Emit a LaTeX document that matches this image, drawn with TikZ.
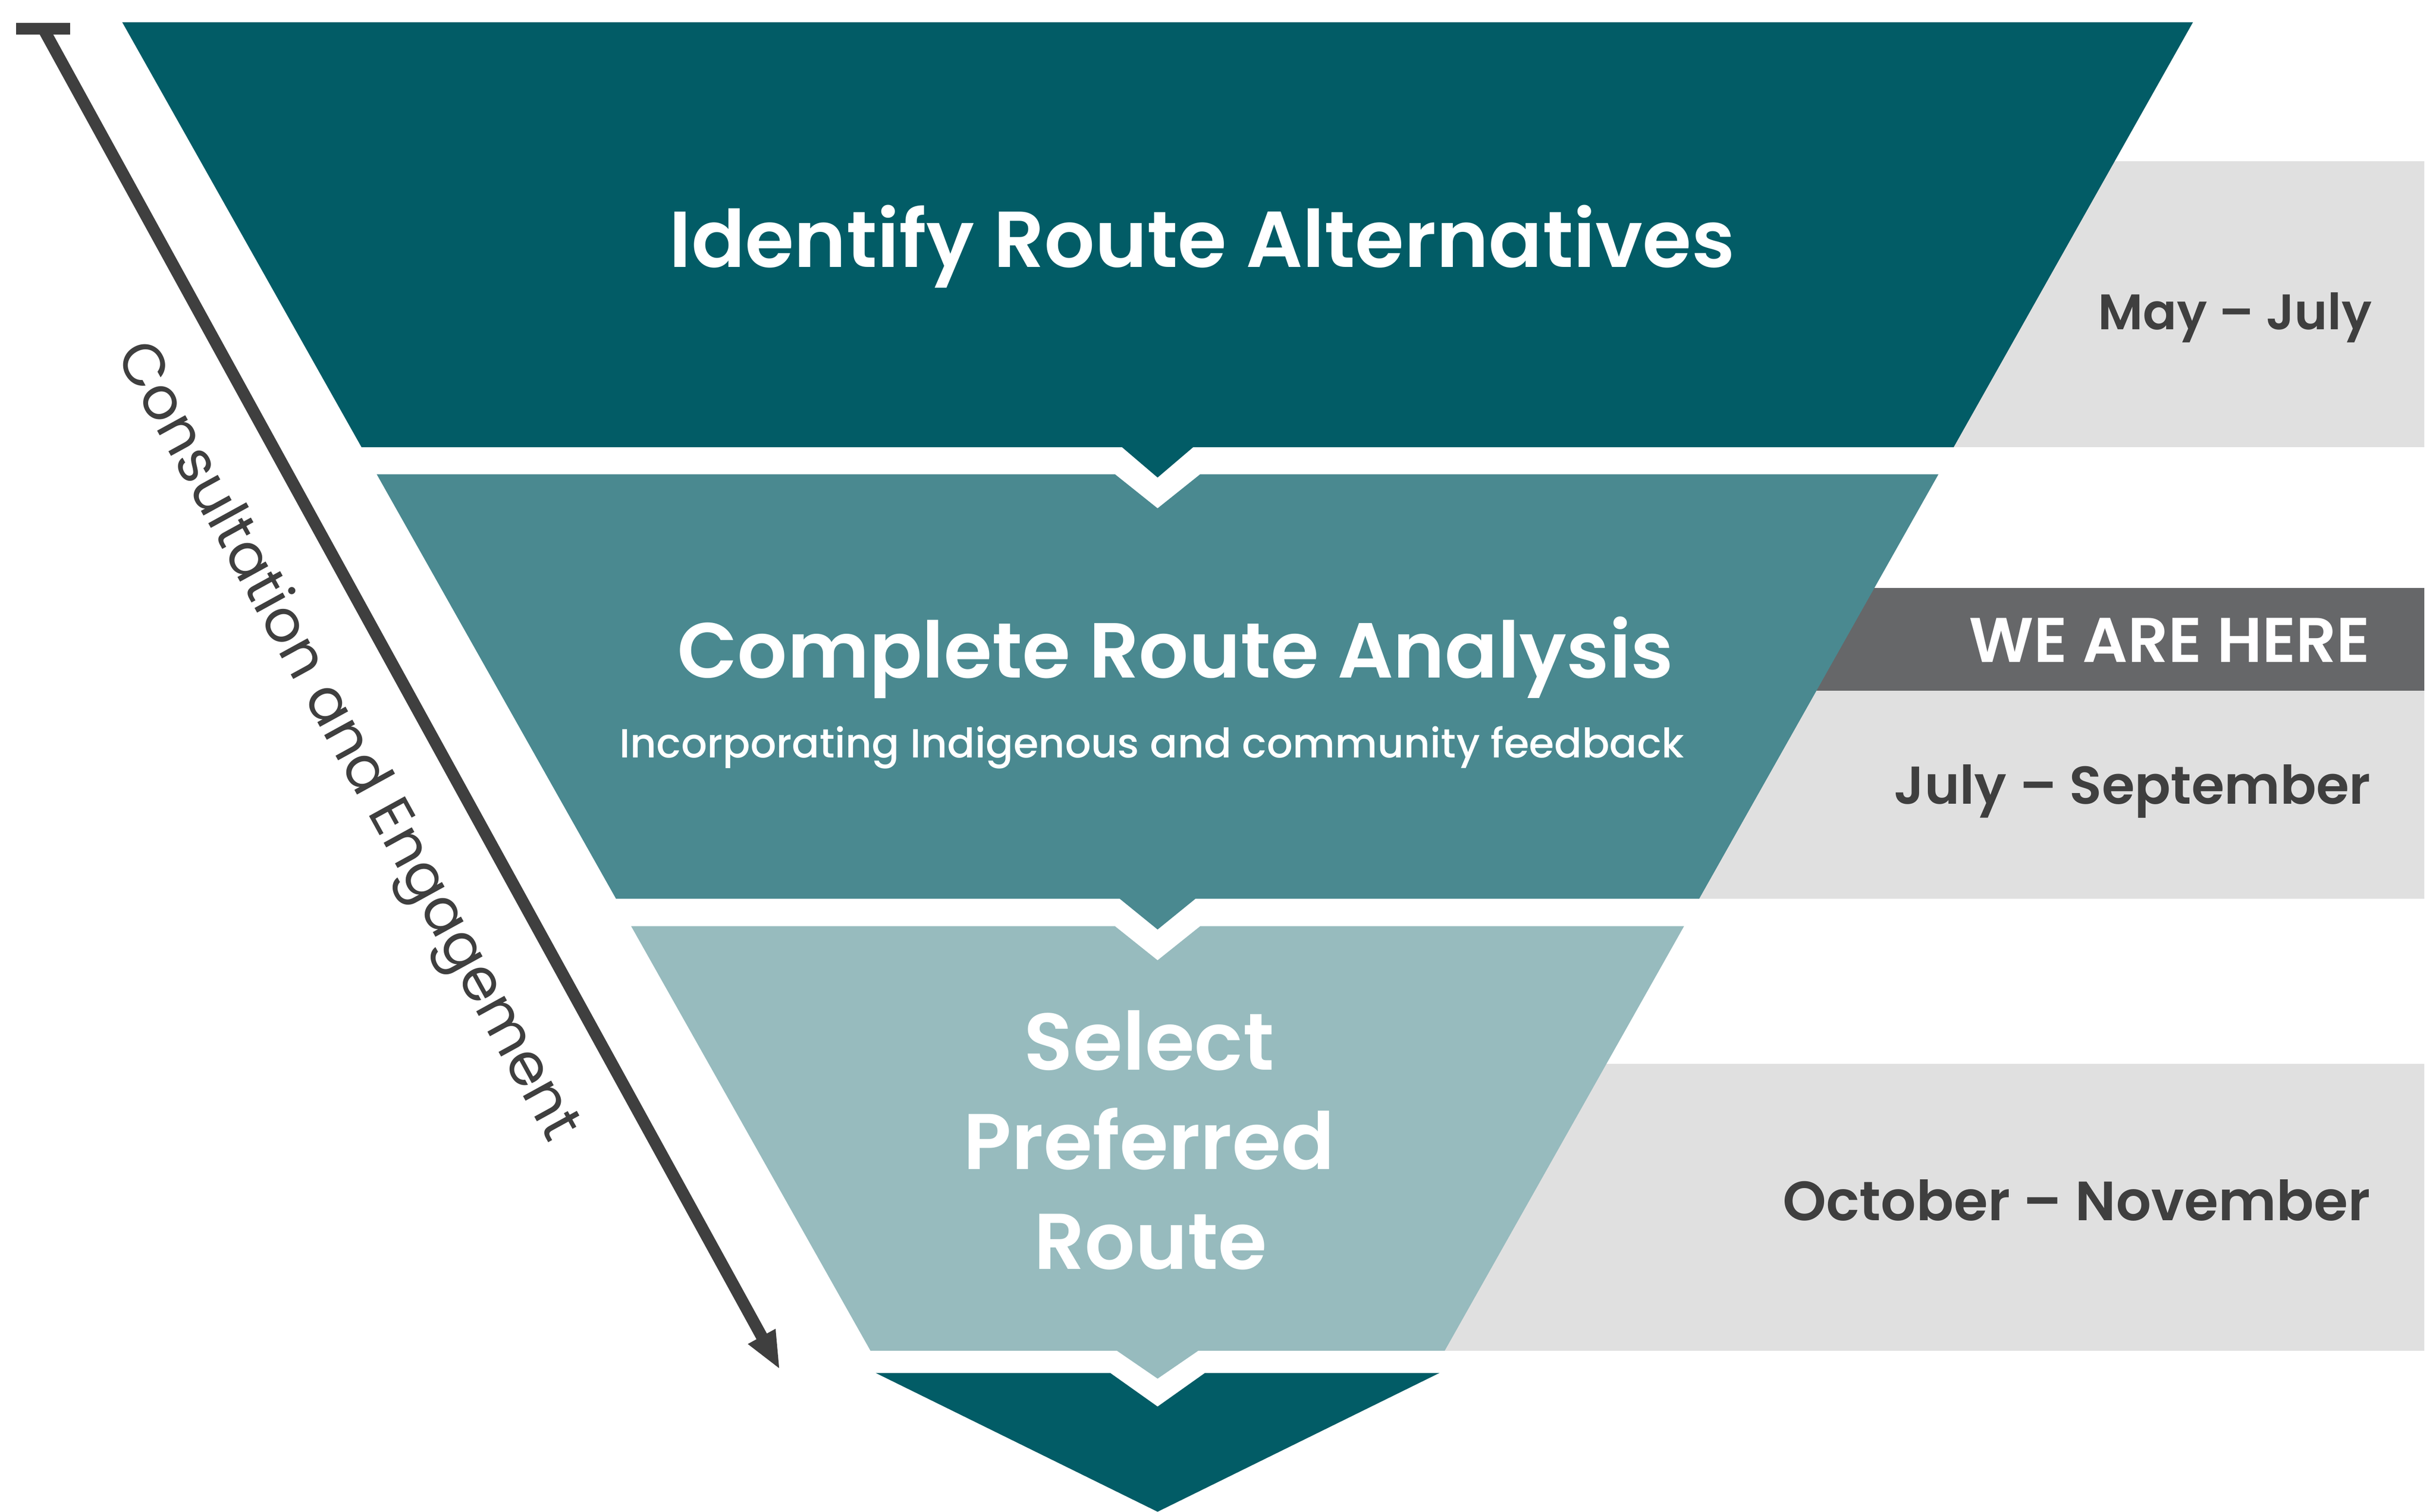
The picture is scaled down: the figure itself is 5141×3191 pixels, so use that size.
\documentclass[tikz,border=0pt]{standalone}
\usepackage{fontspec}
\setmainfont{Poppins}[UprightFont={* Medium},BoldFont={* SemiBold}]
\newfontfamily\popreg{Poppins}
\usepackage{graphicx}
\usetikzlibrary{arrows.meta}
\definecolor{tealA}{HTML}{025C66}
\definecolor{tealB}{HTML}{4A8990}
\definecolor{tealC}{HTML}{97BBBE}
\definecolor{boxgray}{HTML}{E0E0E0}
\definecolor{bandgray}{HTML}{666769}
\definecolor{ink}{HTML}{3F3F3F}
\begin{document}
\begin{tikzpicture}[x=0.01cm,y=-0.01cm,
  titletext/.style={text=white, inner sep=0pt, anchor=base, font=\bfseries},
  subtext/.style={text=white, inner sep=0pt, anchor=base},
  datetext/.style={text=ink, inner sep=0pt, anchor=base east, font=\bfseries},
  heretext/.style={text=white, inner sep=0pt, anchor=base east, font=\bfseries},
  sidetext/.style={text=ink, inner sep=0pt, rotate=-61.2}]
\useasboundingbox (0,0) rectangle (5141,3191);

% right-hand time boxes
\fill[boxgray] (4000,340) rectangle (5116,944);
\fill[bandgray] (3500,1241) rectangle (5116,1458);
\fill[boxgray] (3400,1458) rectangle (5116,1897);
\fill[boxgray] (2950,2246) rectangle (5116,2851);

% funnel stages
\fill[tealA] (258,47) -- (4628,47) -- (4123,944) -- (2518,944) -- (2443,1008) -- (2368,944) -- (763,944) -- cycle;
\fill[tealB] (795,1001) -- (2353,1001) -- (2443,1073) -- (2533,1001) -- (4091,1001) -- (3586,1897) -- (2523,1897) -- (2443,1962) -- (2363,1897) -- (1300,1897) -- cycle;
\fill[tealC] (1332,1955) -- (2353,1955) -- (2443,2027) -- (2533,1955) -- (3554,1955) -- (3049,2851) -- (2529,2851) -- (2443,2910) -- (2357,2851) -- (1837,2851) -- cycle;
\fill[tealA] (1848,2898) -- (2343,2898) -- (2443,2969) -- (2543,2898) -- (3038,2898) -- (2443,3191) -- cycle;

% consultation arrow
\coordinate (arrstart) at (91,60);
\coordinate (arrend) at (1646,2891);
\draw[ink, line width=0.25cm, -{Triangle[length=0.8cm,width=0.6cm]}] (arrstart) -- (arrend);
\fill[ink] (34,48) rectangle (148,73);

% texts
\node[titletext] (t1) at (2537,564) {\resizebox{22.47cm}{!}{Identify Route Alternatives}};
\node[titletext] (t2) at (2481,1431) {\resizebox{21.00cm}{!}{Complete Route Analysis}};
\node[subtext] (t2s) at (2431,1599) {\resizebox{22.46cm}{!}{Incorporating Indigenous and community feedback}};
\node[titletext] (t3a) at (2425,2258) {\resizebox{5.28cm}{!}{Select}};
\node[titletext] (t3b) at (2425,2468) {\resizebox{7.82cm}{!}{Preferred}};
\node[titletext] (t3c) at (2428,2679) {\resizebox{4.91cm}{!}{Route}};

\node[datetext] (d1) at (5006,696) {\resizebox{5.77cm}{!}{May – July}};
\node[heretext] (here) at (5002,1398) {\resizebox{8.45cm}{!}{WE ARE HERE}};
\node[datetext] (d2) at (5004,1697) {\resizebox{10.05cm}{!}{July – September}};
\node[datetext] (d3) at (5003,2576) {\resizebox{12.39cm}{!}{October – November}};

\node[sidetext] (consult) at (728,1567) {\resizebox{19.0cm}{!}{\popreg Consultation and Engagement}};
\end{tikzpicture}
\end{document}
